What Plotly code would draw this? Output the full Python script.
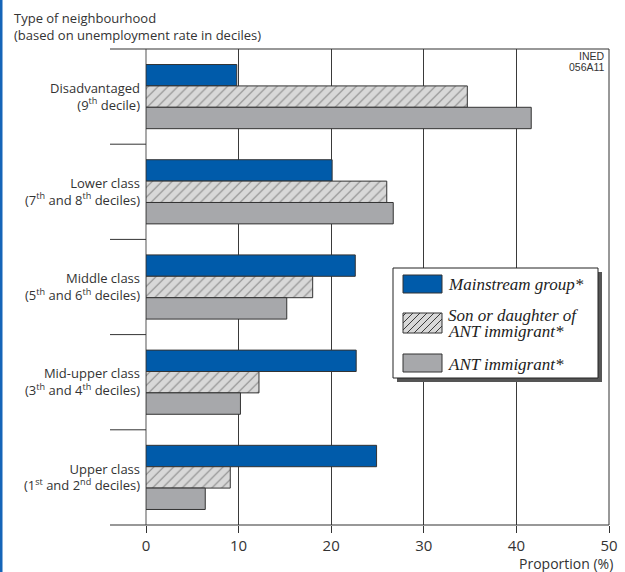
import plotly.graph_objects as go

# ---------------- data ----------------
categories = [
    "Disadvantaged<br>(9<sup>th</sup> decile)",
    "Lower class<br>(7<sup>th</sup> and 8<sup>th</sup> deciles)",
    "Middle class<br>(5<sup>th</sup> and 6<sup>th</sup> deciles)",
    "Mid-upper class<br>(3<sup>th</sup> and 4<sup>th</sup> deciles)",
    "Upper class<br>(1<sup>st</sup> and 2<sup>nd</sup> deciles)",
]
mainstream = [9.8, 20.1, 22.6, 22.7, 24.9]
son_daughter = [34.7, 26.0, 18.0, 12.2, 9.1]
immigrant = [41.6, 26.7, 15.2, 10.2, 6.4]
series_names = ["Mainstream group*", "Son or daughter of ANT immigrant*", "ANT immigrant*"]
x_ticks = [0, 10, 20, 30, 40, 50]

# ---------------- layout geometry ----------------
W_FIG, H_FIG = 625, 572
L, R, T, B = 146, 16, 49, 47
PW, PH = W_FIG - L - R, H_FIG - T - B
LEFT_EXT = 110  # pixel where frame lines start on the left


def px(x):
    return (x - L) / PW


def py(y):
    return 1 - (y - T) / PH


BLUE = "#005BAA"
GREY = "#A7A8AB"
HATCH_BG = "#D8D8D8"
EDGE = "#333333"
SANS = "Open Sans, DejaVu Sans, sans-serif"
SERIF = "Liberation Serif, DejaVu Serif, serif"

fig = go.Figure()
fig.add_trace(go.Bar(
    y=categories, x=mainstream, orientation="h", name=series_names[0],
    marker=dict(color=BLUE, line=dict(color=EDGE, width=1)), showlegend=False,
))
fig.add_trace(go.Bar(
    y=categories, x=son_daughter, orientation="h", name=series_names[1],
    marker=dict(color=HATCH_BG, line=dict(color=EDGE, width=1),
                pattern=dict(shape="/", size=7, solidity=0.15,
                             fgcolor="#333333", bgcolor=HATCH_BG, fillmode="overlay")),
    showlegend=False,
))
fig.add_trace(go.Bar(
    y=categories, x=immigrant, orientation="h", name=series_names[2],
    marker=dict(color=GREY, line=dict(color=EDGE, width=1)), showlegend=False,
))

shapes = []
# blue left border
shapes.append(dict(type="rect", xref="paper", yref="paper",
                   x0=px(0), x1=px(2.5), y0=py(H_FIG), y1=py(0),
                   fillcolor="#1565B8", line=dict(width=0), layer="above"))
# top & bottom frame lines
for yy in (0, 1):
    shapes.append(dict(type="line", xref="paper", yref="paper",
                       x0=px(LEFT_EXT), x1=1, y0=yy, y1=yy,
                       line=dict(color="#333333", width=1.2), layer="above"))
# category separators
n = len(categories)
for i in range(1, n):
    shapes.append(dict(type="line", xref="paper", yref="paper",
                       x0=px(LEFT_EXT), x1=0, y0=i / n, y1=i / n,
                       line=dict(color="#333333", width=1), layer="above"))
# zero line (grey) and right frame line
shapes.append(dict(type="line", xref="paper", yref="paper", x0=0, x1=0, y0=0, y1=1,
                   line=dict(color="#8C8C8C", width=1.5), layer="below"))
shapes.append(dict(type="line", xref="paper", yref="paper", x0=1, x1=1, y0=0, y1=1,
                   line=dict(color="#333333", width=1), layer="below"))

# legend box with shadow
bx0, bx1, by0, by1 = 393, 598, 268, 378
shapes.append(dict(type="rect", xref="paper", yref="paper",
                   x0=px(bx0 + 4), x1=px(bx1 + 4), y0=py(by1 + 4), y1=py(by0 + 4),
                   fillcolor="#555555", line=dict(width=0), layer="above"))
shapes.append(dict(type="rect", xref="paper", yref="paper",
                   x0=px(bx0), x1=px(bx1), y0=py(by1), y1=py(by0),
                   fillcolor="white", line=dict(color="#222222", width=1), layer="above"))

sw_x0, sw_x1 = 403, 442
swatches = [(275, 293, BLUE), (313, 333, HATCH_BG), (354, 372, GREY)]
for (s0, s1, col) in swatches:
    shapes.append(dict(type="rect", xref="paper", yref="paper",
                       x0=px(sw_x0), x1=px(sw_x1), y0=py(s1), y1=py(s0),
                       fillcolor=col, line=dict(color=EDGE, width=1), layer="above"))
# hatch lines for the second swatch
h0, h1 = swatches[1][0], swatches[1][1]
c = sw_x0 + h0 + 3
while c < sw_x1 + h1:
    xs = max(sw_x0, c - h1)
    xe = min(sw_x1, c - h0)
    if xe > xs:
        shapes.append(dict(type="line", xref="paper", yref="paper",
                           x0=px(xs), y0=py(c - xs), x1=px(xe), y1=py(c - xe),
                           line=dict(color="#3a3a3a", width=1), layer="above"))
    c += 7

annotations = []


def ann(text, x, y, size, xanchor="left", family=SANS, color="#333333"):
    annotations.append(dict(text=text, xref="paper", yref="paper", x=px(x), y=py(y),
                            xanchor=xanchor, yanchor="middle", showarrow=False,
                            align=xanchor if xanchor != "center" else "center",
                            font=dict(family=family, size=size, color=color)))


ann("Type of neighbourhood<br>(based on unemployment rate in deciles)", 12, 27, 13)
ann("Proportion (%)", 615, 563, 14, xanchor="right")
ann("INED", 607, 56, 10.5, xanchor="right", family="Liberation Sans Narrow, Arial Narrow, sans-serif")
ann("056A11", 607, 67, 10.5, xanchor="right", family="Liberation Sans Narrow, Arial Narrow, sans-serif")
ann("<i>Mainstream group*</i>", 446, 284, 17, family=SERIF, color="#222222")
ann("<i>Son or daughter of</i>", 446, 315, 17, family=SERIF, color="#222222")
ann("<i>ANT immigrant*</i>", 446, 331, 17, family=SERIF, color="#222222")
ann("<i>ANT immigrant*</i>", 446, 364, 17, family=SERIF, color="#222222")

fig.update_layout(
    width=W_FIG, height=H_FIG, autosize=False,
    margin=dict(l=L, r=R, t=T, b=B, pad=0, autoexpand=False),
    paper_bgcolor="white", plot_bgcolor="white",
    barmode="group", bargap=0.326, bargroupgap=0,
    showlegend=False,
    shapes=shapes, annotations=annotations,
    xaxis=dict(range=[0, 50], tickvals=x_ticks, ticktext=[str(v) for v in x_ticks],
               ticks="outside", ticklen=7, tickcolor="#333333", tickwidth=1,
               showgrid=True, gridcolor="#3a3a3a", gridwidth=1, zeroline=False,
               showline=False, automargin=False,
               tickfont=dict(family=SANS, size=15, color="#333333")),
    yaxis=dict(type="category", range=[n - 0.5, -0.5], ticks="", showgrid=False,
               zeroline=False, showline=False, ticklabelstandoff=5, automargin=False,
               tickfont=dict(family=SANS, size=13, color="#333333")),
)

fig.write_html("out.html", config={"displayModeBar": False, "responsive": False},
               post_script="document.body.style.margin='0';document.body.style.overflow='hidden';")
